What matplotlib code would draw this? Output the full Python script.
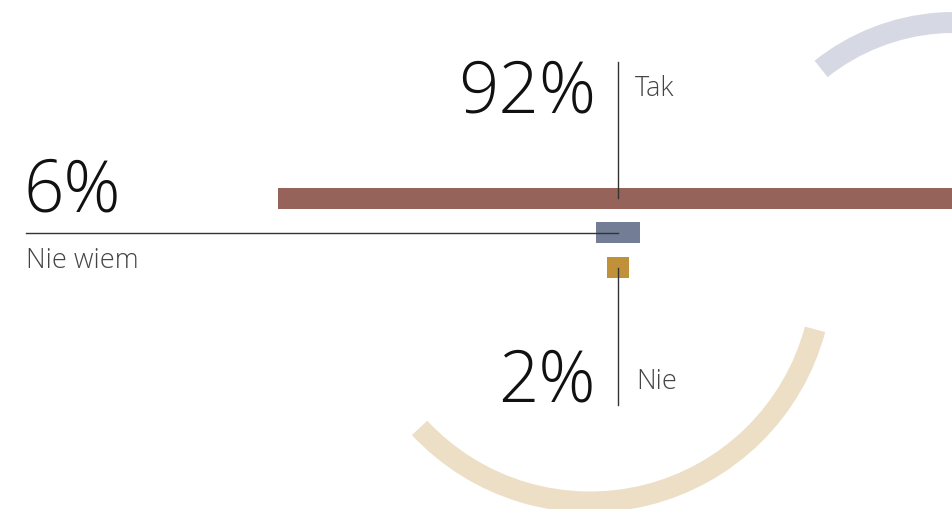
import numpy as np
import matplotlib
matplotlib.use("Agg")
import matplotlib.pyplot as plt
from matplotlib.patches import Wedge

# ---- data ----
categories = ["Tak", "Nie wiem", "Nie"]
values = [92, 6, 2]
colors = ["#96635a", "#737d96", "#c1913a"]

# ---- layout (pixel coordinates) ----
W, H = 953, 509
fig = plt.figure(figsize=(W / 100, H / 100), dpi=100)
ax = fig.add_axes([0, 0, 1, 1])
ax.set_xlim(0, W)
ax.set_ylim(H, 0)
ax.axis("off")

FONT = "Open Sans"
center_x = 618
row_y = [198, 232.5, 267.5]
px_per_pct = 7.4
min_w = 22
widths = np.maximum(np.array(values) * px_per_pct, min_w)

# decorative arcs
ax.add_patch(Wedge((954, 236), 224, 231.5, 300, width=21,
                   facecolor="#d6d9e3", edgecolor="none", zorder=0))
ax.add_patch(Wedge((590, 269), 243.5, 15, 137, width=21,
                   facecolor="#ecdfc5", edgecolor="none", zorder=0))

# bars
ax.barh(row_y, widths, left=center_x - widths / 2, height=21,
        color=colors, edgecolor="none", zorder=2)

line_kw = dict(color="#333333", lw=1.0, zorder=3)
# leader lines
ax.plot([center_x, center_x], [62, row_y[0]], **line_kw)
ax.plot([26, center_x], [row_y[1], row_y[1]], **line_kw)
ax.plot([center_x, center_x], [row_y[2], 405], **line_kw)

big = dict(family=FONT, fontweight=300, fontsize=51, color="#111111")
small = dict(family=FONT, fontweight=300, fontsize=19.5, color="#444444")

# Tak
ax.text(596, 112, f"{values[0]}%", ha="right", va="baseline", **big)
ax.text(635, 96, categories[0], ha="left", va="baseline", **small)
# Nie wiem
ax.text(24, 212, f"{values[1]}%", ha="left", va="baseline", **big)
ax.text(26, 268, categories[1], ha="left", va="baseline", **small)
# Nie
ax.text(596, 402, f"{values[2]}%", ha="right", va="baseline", **big)
ax.text(636, 389, categories[2], ha="left", va="baseline", **small)

fig.savefig("out.png", dpi=100, facecolor="white")
